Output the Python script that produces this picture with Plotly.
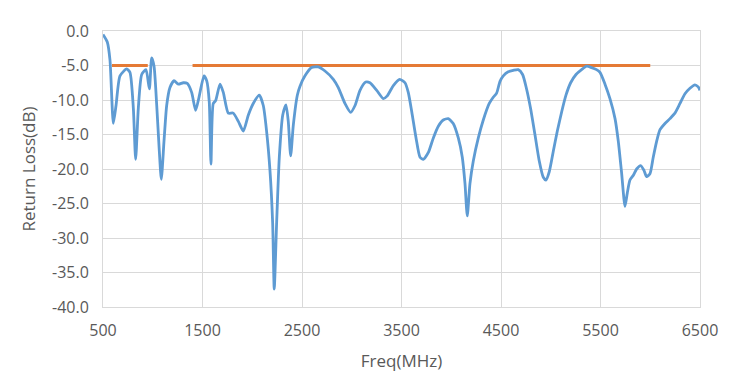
import plotly.graph_objects as go

freq_mhz = [500, 543, 570, 604, 631, 671, 738, 771, 805, 828, 855, 889, 932, 966, 989, 1013,
            1040, 1066, 1086, 1113, 1140, 1173, 1214, 1257, 1307, 1347, 1391, 1431, 1465,
            1515, 1542, 1568, 1585, 1608, 1632, 1676, 1709, 1759, 1809, 1860, 1910, 1960,
            2010, 2071, 2111, 2144, 2178, 2205, 2221, 2245, 2272, 2306, 2339, 2362, 2386,
            2413, 2453, 2480, 2530, 2597, 2664, 2731, 2815, 2865, 2932, 2989, 3033, 3083,
            3140, 3183, 3251, 3317, 3357, 3418, 3482, 3535, 3568, 3603, 3646, 3686, 3719,
            3770, 3820, 3870, 3920, 3970, 4020, 4071, 4111, 4138, 4161, 4188, 4222, 4272,
            4322, 4382, 4422, 4456, 4490, 4523, 4573, 4623, 4673, 4717, 4757, 4797, 4841,
            4884, 4925, 4952, 4985, 5026, 5066, 5110, 5153, 5200, 5254, 5310, 5360, 5410,
            5460, 5495, 5545, 5595, 5646, 5679, 5713, 5746, 5769, 5796, 5830, 5863, 5904,
            5937, 5963, 5997, 6030, 6064, 6098, 6148, 6198, 6248, 6299, 6349, 6399, 6449,
            6482, 6500]
return_loss_db = [-0.5, -1.6, -4.2, -13.4, -10.8, -6.5, -5.5, -6.0, -11.2, -18.6, -11.2, -6.3,
                  -5.6, -8.4, -3.9, -5.1, -10.8, -17.4, -21.5, -16.0, -10.8, -8.2, -7.2, -7.7,
                  -7.5, -7.6, -8.9, -11.5, -9.6, -6.5, -7.2, -10.3, -19.3, -10.5, -10.1, -7.7,
                  -8.9, -11.9, -11.9, -13.1, -14.5, -12.2, -10.5, -9.3, -10.8, -14.5, -20.2,
                  -27.8, -37.4, -27.8, -18.3, -12.2, -10.7, -13.1, -18.1, -13.6, -9.3, -8.0,
                  -6.5, -5.3, -5.2, -5.8, -7.0, -8.2, -10.5, -11.8, -10.8, -8.6, -7.4, -7.5,
                  -8.6, -9.8, -9.4, -7.9, -7.0, -7.5, -8.9, -11.7, -15.5, -18.3, -18.6, -17.6,
                  -15.5, -13.8, -12.9, -12.7, -13.4, -15.5, -18.3, -22.1, -26.8, -22.1, -18.8,
                  -15.5, -12.9, -10.5, -9.6, -9.0, -7.3, -6.5, -5.9, -5.7, -5.6, -6.3, -8.4,
                  -11.2, -15.0, -18.8, -21.2, -21.6, -20.4, -17.4, -14.5, -11.7, -9.3, -7.5,
                  -6.3, -5.6, -5.1, -5.3, -5.6, -6.0, -7.7, -9.8, -12.7, -16.0, -20.7, -25.4,
                  -23.5, -21.6, -20.9, -20.0, -19.5, -20.2, -21.1, -20.7, -18.3, -16.0, -14.3,
                  -13.4, -12.7, -11.9, -10.5, -9.1, -8.3, -7.8, -8.1, -8.6]

limit_freq = [590, 950, None, 1400, 6000]
limit_db = [-5, -5, None, -5, -5]

x_ticks = [500, 1500, 2500, 3500, 4500, 5500, 6500]
y_ticks = [0, -5, -10, -15, -20, -25, -30, -35, -40]
y_tick_labels = ["0.0", "-5.0", "-10.0", "-15.0", "-20.0", "-25.0", "-30.0", "-35.0", "-40.0"]

fig = go.Figure()
fig.add_trace(go.Scatter(x=limit_freq, y=limit_db, mode="lines",
                         line=dict(color="#E57A35", width=3), connectgaps=False,
                         showlegend=False, hoverinfo="skip"))
fig.add_trace(go.Scatter(x=freq_mhz, y=return_loss_db, mode="lines",
                         line=dict(color="#5E9BD3", width=2.8, shape="spline", smoothing=0.6),
                         showlegend=False))

grid = "#D9D9D9"
font = dict(family="Open Sans", size=16, color="#595959")
fig.update_layout(
    width=739, height=381,
    margin=dict(l=95, r=47, t=16, b=82),
    paper_bgcolor="white", plot_bgcolor="white",
    font=font,
    xaxis=dict(range=[500, 6500], tickvals=x_ticks, showgrid=True, gridcolor=grid,
               gridwidth=1, zeroline=False, showline=True, linecolor=grid, mirror=True,
               ticks="", ticklabelstandoff=9, tickfont=dict(size=16),
               title=dict(text="Freq(MHz)", font=dict(size=17, color="#595959"), standoff=14)),
    yaxis=dict(range=[-40, 0], tickvals=y_ticks, ticktext=y_tick_labels, showgrid=True,
               gridcolor=grid, gridwidth=1, zeroline=False, showline=True, linecolor=grid,
               mirror=True, ticks="", ticklabelstandoff=10, tickfont=dict(size=16),
               title=dict(text="Return Loss(dB)", font=dict(size=17, color="#595959"), standoff=12)),
)
fig.write_html("out.html")
